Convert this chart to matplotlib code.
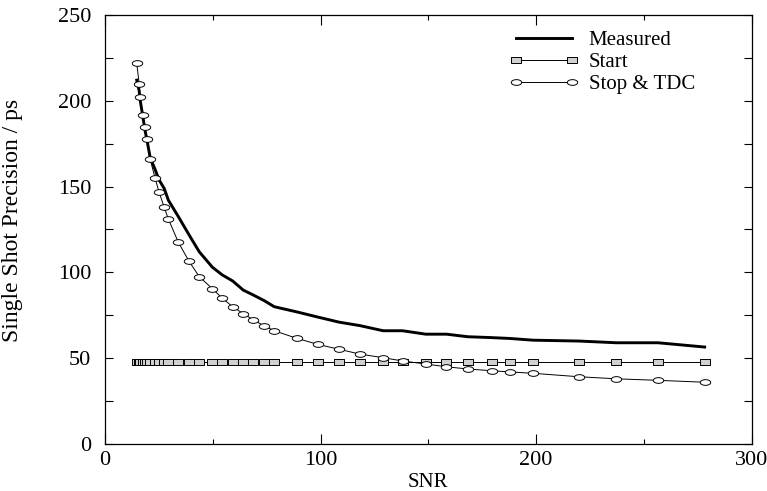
import numpy as np
import matplotlib
matplotlib.use("Agg")
import matplotlib.pyplot as plt
from matplotlib.path import Path
from matplotlib.transforms import Affine2D
from matplotlib.ticker import MultipleLocator

# SNR values (shared by all series)
snr = [14.7, 15.8, 16.2, 17.5, 18.5, 19.6, 20.9, 23.2, 25.0, 27.4, 29.4,
       34.0, 38.9, 43.7, 49.8, 54.4, 59.2, 64.1, 68.8, 73.9, 78.5, 88.9,
       98.6, 108.6, 118.2, 129.0, 138.0, 148.8, 158.4, 168.4, 179.3, 187.8,
       198.6, 219.8, 237.2, 256.5, 278.2]

measured = [212, 206, 201, 191, 183, 176, 167, 160, 154, 149, 142,
            132.5, 122, 112, 103, 98.5, 95, 89.7, 86.8, 83.5, 80, 77,
            74, 71, 69, 66, 66, 64, 64, 62.5, 62, 61.5,
            60.5, 60, 59, 59, 56.5]

start = [47.5] * len(snr)

stop_tdc = [221.8, 210, 202, 191.7, 184.5, 177.5, 166, 155, 147, 138, 131,
            117.5, 106.6, 97.5, 90.5, 84.9, 80, 76, 72.3, 68.8, 66, 61.6,
            58.1, 55.2, 52.4, 50.3, 48.4, 46.6, 45, 43.7, 42.7, 42,
            41.2, 39.2, 38, 37.1, 36]

plt.rcParams['font.family'] = ['Liberation Serif', 'DejaVu Serif']
plt.rcParams['font.size'] = 16

# flattened ellipse / rectangle markers
ellipse = Path.unit_circle().transformed(Affine2D().scale(1.0, 0.55))
rect = Path.unit_rectangle().transformed(Affine2D().translate(-0.5, -0.5).scale(1.0, 0.65))

fig = plt.figure(figsize=(7.67, 4.91), dpi=100)
ax = fig.add_axes([0.137, 0.0957, 0.843, 0.8738])

ax.plot(snr, measured, color='black', lw=2.1, label='Measured')
ax.plot(snr, start, color='black', lw=0.7, marker=rect, markersize=6.5,
        markerfacecolor='#d0d0d0', markeredgecolor='black', markeredgewidth=0.7,
        label='Start')
ax.plot(snr, stop_tdc, color='black', lw=0.7, marker=ellipse, markersize=7.5,
        markerfacecolor='white', markeredgecolor='black', markeredgewidth=0.7,
        label='Stop & TDC')

ax.set_xlim(0, 300)
ax.set_ylim(0, 250)
ax.xaxis.set_major_locator(MultipleLocator(100))
ax.xaxis.set_minor_locator(MultipleLocator(50))
ax.yaxis.set_major_locator(MultipleLocator(50))
ax.yaxis.set_minor_locator(MultipleLocator(25))
ax.tick_params(which='both', direction='in', top=True, right=True, width=0.8)
ax.tick_params(axis='x', which='major', length=7, pad=5)
ax.tick_params(axis='x', which='minor', length=3.5)
ax.tick_params(axis='y', which='both', length=6, pad=10)
for s in ax.spines.values():
    s.set_linewidth(0.9)

ax.set_xlabel('SNR', va='top', fontsize=15)
ax.xaxis.set_label_coords(0.5, -0.068)
ax.set_ylabel('Single Shot Precision / ps', fontsize=17)
ax.yaxis.set_label_coords(-0.127, 0.52)

ax.legend(loc='upper left', bbox_to_anchor=(499 / 767, 1 - 20 / 491),
          bbox_transform=fig.transFigure, frameon=False, borderpad=0,
          numpoints=2, handlelength=3.3, handletextpad=0.5, labelspacing=0.12,
          fontsize=15)

fig.savefig('out.png', dpi=100)
